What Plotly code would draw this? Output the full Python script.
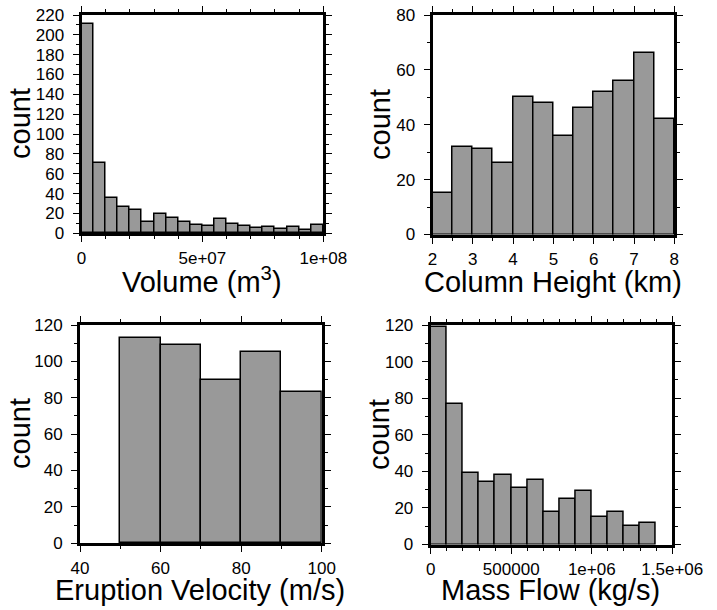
import numpy as np
import plotly.graph_objects as go

# ---------------- data ----------------
vol_start = 0.0
vol_width = 5e6
vol_counts = [211, 71, 36, 27, 23, 11, 19, 15, 11, 8, 7, 14, 9, 7, 5, 6, 4, 6, 3, 8]

col_start = 2.0
col_width = 0.5
col_counts = [15, 32, 31, 26, 50, 48, 36, 46, 52, 56, 66, 42]

vel_start = 40.0
vel_width = 10.0
vel_counts = [0, 113, 109, 90, 105, 83]

mf_start = 0.0
mf_width = 1e5
mf_counts = [119, 77, 39, 34, 38, 31, 35, 18, 25, 29, 15, 18, 10, 12]

vol_ticks = [0, 5e7, 1e8]
vol_ticktext = ["0", "5e+07", "1e+08"]
mf_ticks = [0, 5e5, 1e6, 1.5e6]
mf_ticktext = ["0", "500000", "1e+06", "1.5e+06"]

x_titles = ["Volume (m<sup>3</sup>)", "Column Height (km)",
            "Eruption Velocity (m/s)", "Mass Flow (kg/s)"]
y_title = "count"

# ---------------- layout geometry ----------------
W, H = 717, 610
FONT = "Liberation Sans, Arial, Helvetica, sans-serif"
BAR_COLOR = "#999999"

# panel pixel boxes (left, right, top, bottom)
boxes = [
    (81.5, 323.3, 15, 233.3),
    (432.5, 674.3, 15, 234.5),
    (80, 321.7, 325, 543.3),
    (430.7, 672.3, 325, 544.5),
]


def dom_x(b):
    return [b[0] / W, b[1] / W]


def dom_y(b):
    return [1 - b[3] / H, 1 - b[2] / H]


fig = go.Figure()

series = [
    (vol_start, vol_width, vol_counts),
    (col_start, col_width, col_counts),
    (vel_start, vel_width, vel_counts),
    (mf_start, mf_width, mf_counts),
]

for i, (start, width, counts) in enumerate(series):
    n = len(counts)
    centers = start + width * (np.arange(n) + 0.5)
    sfx = "" if i == 0 else str(i + 1)
    lw = [1.5 if c > 0 else 0 for c in counts]
    fig.add_trace(go.Bar(
        x=centers, y=counts, width=width,
        marker=dict(color=BAR_COLOR, line=dict(color="black", width=lw)),
        xaxis="x" + sfx, yaxis="y" + sfx, showlegend=False,
        hoverinfo="x+y",
    ))

common = dict(
    showline=True, linewidth=3, linecolor="black", mirror="allticks",
    ticks="outside", ticklen=6, tickwidth=1, tickcolor="black",
    showgrid=False, zeroline=False, fixedrange=True, automargin=False,
    tickfont=dict(family=FONT, size=17, color="black"),
)


def minor(d):
    return dict(dtick=d, ticklen=3, tickwidth=1, tickcolor="black", ticks="outside", tick0=0)


x_specs = [
    dict(range=[0, 1e8], tickmode="array", tickvals=vol_ticks, ticktext=vol_ticktext, minor=minor(1e7)),
    dict(range=[2, 8], dtick=1, tick0=0, minor=minor(0.5)),
    dict(range=[40, 100], dtick=20, tick0=0, minor=minor(10)),
    dict(range=[0, 1.5e6], tickmode="array", tickvals=mf_ticks, ticktext=mf_ticktext, minor=minor(1e5)),
]
y_specs = [
    dict(range=[0, 220], dtick=20, tick0=0, minor=minor(10)),
    dict(range=[0, 80], dtick=20, tick0=0, minor=minor(10)),
    dict(range=[0, 120], dtick=20, tick0=0, minor=minor(10)),
    dict(range=[0, 120], dtick=20, tick0=0, minor=minor(10)),
]

layout = dict(
    width=W, height=H, margin=dict(l=0, r=0, t=0, b=0, pad=0, autoexpand=False),
    paper_bgcolor="white", plot_bgcolor="white",
    barmode="overlay", bargap=0,
    font=dict(family=FONT, color="black"),
)

for i, b in enumerate(boxes):
    sfx = "" if i == 0 else str(i + 1)
    xa = dict(common, **x_specs[i], domain=dom_x(b), anchor="y" + sfx, ticklabelstandoff=1)
    ya = dict(common, **y_specs[i], domain=dom_y(b), anchor="x" + sfx, ticklabelstandoff=5)
    layout["xaxis" + sfx] = xa
    layout["yaxis" + sfx] = ya

fig.update_layout(**layout)

x_title_pos = [(202, 280), (553, 282), (200, 590), (550, 590)]
y_title_pos = [(20, 124), (380, 125), (20, 434), (379, 435)]
for i in range(4):
    fig.add_annotation(
        text=x_titles[i], xref="paper", yref="paper",
        x=x_title_pos[i][0] / W, y=1 - x_title_pos[i][1] / H,
        xanchor="center", yanchor="middle", showarrow=False,
        font=dict(family=FONT, size=29, color="black"),
    )
    fig.add_annotation(
        text=y_title, xref="paper", yref="paper",
        x=y_title_pos[i][0] / W, y=1 - y_title_pos[i][1] / H,
        xanchor="center", yanchor="middle", showarrow=False, textangle=-90,
        font=dict(family=FONT, size=29, color="black"),
    )

fig.write_html(
    "out.html",
    config={"displayModeBar": False},
    post_script="document.body.style.margin='0';document.body.style.padding='0';",
)
